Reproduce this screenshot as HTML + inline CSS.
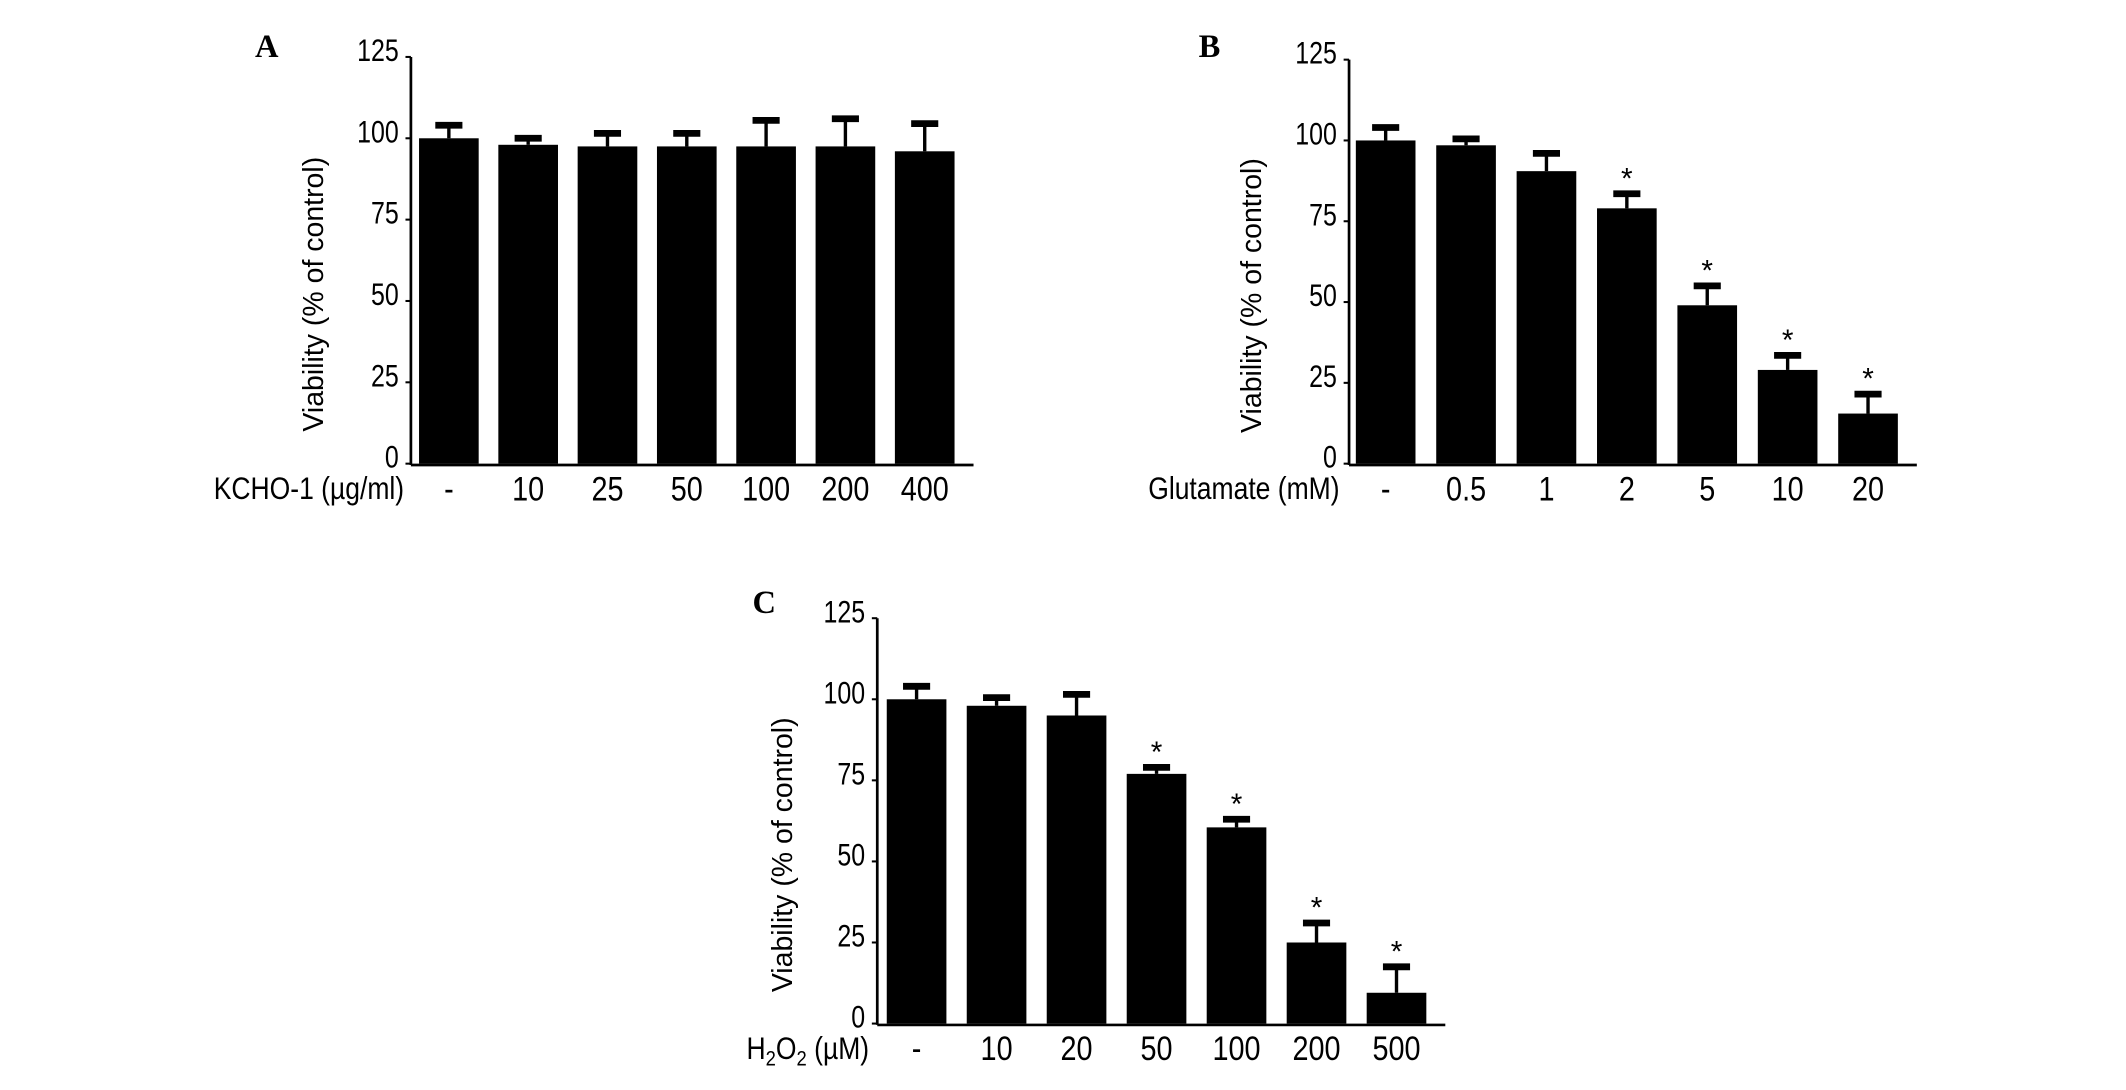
<!DOCTYPE html>
<html><head><meta charset="utf-8"><style>
html,body{margin:0;padding:0;background:#fff;}
svg{display:block;}
text{font-family:"Liberation Sans",sans-serif;fill:#000;}
</style></head><body>
<svg id="fig" width="2126" height="1090" viewBox="0 0 1568 804" xmlns="http://www.w3.org/2000/svg">
<rect width="1568" height="804" fill="#fff"/>
</svg>
<script>
const catsA = ["-", "10", "25", "50", "100", "200", "400"];
const valsA = [100, 98, 97.5, 97.5, 97.5, 97.5, 96];
const errA = [4, 2, 4, 4, 8, 8.5, 8.5];
const starA = [false, false, false, false, false, false, false];

const catsB = ["-", "0.5", "1", "2", "5", "10", "20"];
const valsB = [100, 98.5, 90.5, 79, 49, 29, 15.5];
const errB = [4, 2, 5.5, 4.5, 6, 4.5, 6];
const starB = [false, false, false, true, true, true, true];

const catsC = ["-", "10", "20", "50", "100", "200", "500"];
const valsC = [100, 98, 95, 77, 60.5, 25, 9.5];
const errC = [4, 2.5, 6.5, 2, 2.5, 6, 8];
const starC = [false, false, false, true, true, true, true];

const yTicks = [0, 25, 50, 75, 100, 125];

const NS = "http://www.w3.org/2000/svg";
const svg = document.getElementById("fig");
function mk(tag, attrs, parent) {
  const e = document.createElementNS(NS, tag);
  for (const k in attrs) e.setAttribute(k, attrs[k]);
  (parent || svg).appendChild(e);
  return e;
}
function ctext(parent, x, y, size, anchor, sx) {
  return mk("text", {x: 0, y: 0, "text-anchor": anchor, "font-size": size, transform: `translate(${x},${y}) scale(${sx},1)`}, parent);
}

function panel(cfg, cats, vals, errs, stars) {
  const g = mk("g", {});
  
  
  const y = v => cfg.zero - (cfg.zero - cfg.top) * v / 125;
  const x = i => cfg.c0 + cfg.pitch * i;
  const bw = 44;
  const L = mk("text", {x: cfg.lx, y: cfg.ly, "font-weight": "bold", "font-size": 24, style: "font-family:'Liberation Serif',serif"}, g);
  L.textContent = cfg.id;
  
  
  const ya = mk("line", {x1: cfg.ax, x2: cfg.ax, y1: cfg.top, y2: cfg.zero + 1, stroke: "#000", "stroke-width": 2}, g);
  
  
  const xa = mk("line", {x1: cfg.ax, x2: x(cats.length - 1) + bw / 2 + 14, y1: cfg.zero + 1, y2: cfg.zero + 1, stroke: "#000", "stroke-width": 2}, g);
  
  
  yTicks.forEach(t => {
    const tk = mk("line", {x1: cfg.ax - 4, x2: cfg.ax, y1: y(t), y2: y(t), stroke: "#000", "stroke-width": 1.5}, g);
    
    
    const tl = ctext(g, cfg.ax - 9, y(t) + 3, 23, "end", 0.8);
    tl.textContent = t;
    
    
  });
  const yt = mk("text", {x: 0, y: 0, "text-anchor": "middle", "font-size": 21, transform: `translate(${cfg.ytx},${(cfg.top + cfg.zero) / 2 + 25}) rotate(-90)`}, g);
  yt.textContent = "Viability (% of control)";
  
  
  cats.forEach((c, i) => {
    const cx = x(i);
    const b = mk("rect", {x: cx - bw / 2, y: y(vals[i]), width: bw, height: cfg.zero - y(vals[i]), fill: "#000"}, g);
    
    
    const ey = y(vals[i] + errs[i]);
    const el = mk("line", {x1: cx, x2: cx, y1: y(vals[i]), y2: ey, stroke: "#000", "stroke-width": 2.5}, g);
    
    
    const ec = mk("line", {x1: cx - 10, x2: cx + 10, y1: ey, y2: ey, stroke: "#000", "stroke-width": 5}, g);
    
    
    if (stars[i]) {
      const s = mk("text", {x: cx, y: ey - 4, "text-anchor": "middle", "font-size": 22}, g);
      s.textContent = "*";
      
      
    }
    const xl = ctext(g, cx, cfg.zero + 27, 25, "middle", 0.85);
    xl.textContent = c;
    
    
  });
  const xt = ctext(g, cfg.xtx, cfg.zero + 26, 23, "end", 0.85);
  if (cfg.h2o2) {
    xt.innerHTML = 'H<tspan font-size="16" dy="5">2</tspan><tspan dy="-5">O</tspan><tspan font-size="16" dy="5">2</tspan><tspan dy="-5"> (µM)</tspan>';
  } else {
    xt.textContent = cfg.xt;
  }
  
  
}

panel({id: "A", ax: 303, top: 42, zero: 342, c0: 331, pitch: 58.5, lx: 188, ly: 42, ytx: 238, xtx: 298, xt: "KCHO-1 (µg/ml)"}, catsA, valsA, errA, starA);
panel({id: "B", ax: 995, top: 44, zero: 342, c0: 1022, pitch: 59.3, lx: 884, ly: 42, ytx: 930, xtx: 988, xt: "Glutamate  (mM)"}, catsB, valsB, errB, starB);
panel({id: "C", ax: 647, top: 456, zero: 755, c0: 676, pitch: 59, lx: 555, ly: 452, ytx: 584, xtx: 641, h2o2: true}, catsC, valsC, errC, starC);
</script>
</body></html>
